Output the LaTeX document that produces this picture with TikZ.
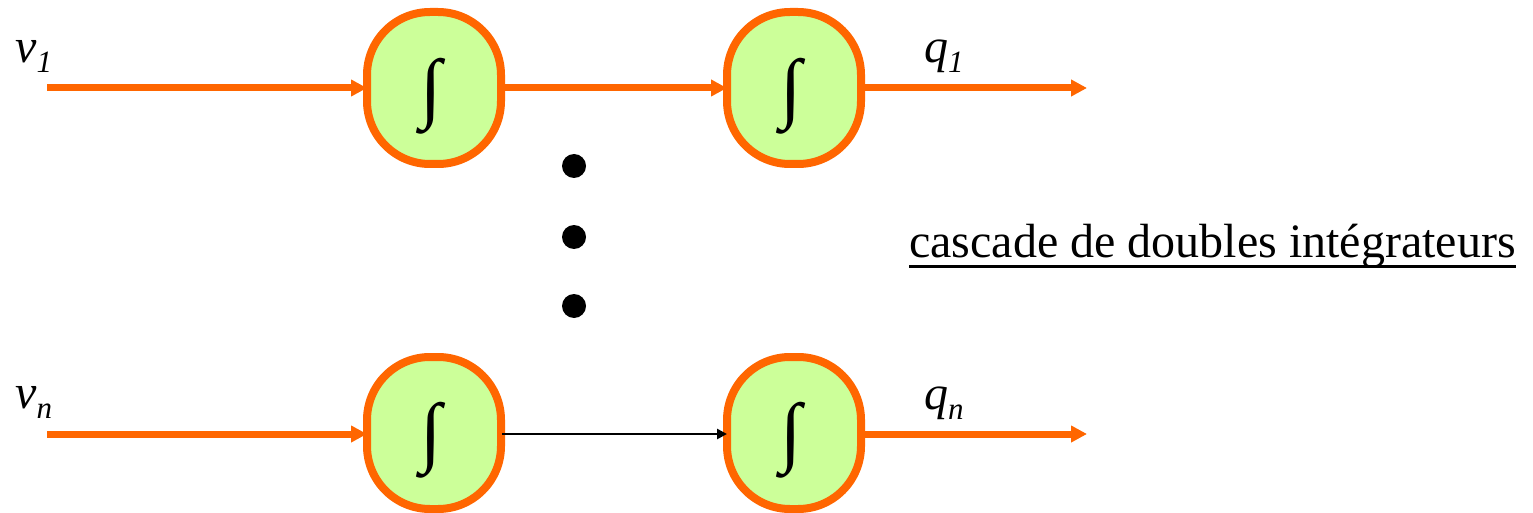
\documentclass[tikz,border=0pt]{standalone}
\usepackage{fontspec}
\usepackage{graphicx}
\setmainfont{Liberation Serif}
\usetikzlibrary{arrows.meta}
\definecolor{sigorange}{HTML}{FF6600}
\definecolor{intgreen}{HTML}{CCFF99}
\newcommand{\sublabel}[2]{\textit{#1}\raisebox{-10pt}{\fontsize{31}{31}\selectfont\itshape #2}}
\newcommand{\intglyph}{\resizebox*{!}{76pt}{\bfseries ∫}}
\begin{document}
\begin{tikzpicture}[x=1pt,y=-1pt,
  integ/.style={draw=sigorange, fill=intgreen, line width=8pt,
    rounded corners=63pt, minimum width=134pt, minimum height=152pt,
    inner sep=0pt},
  intsign/.style={inner sep=0pt},
  sig/.style={draw=sigorange, line width=7pt,
    -{Triangle[length=16pt,width=16pt]}, shorten >=-4pt},
  thin sig/.style={draw=black, line width=2.5pt,
    -{Triangle[length=10pt,width=10pt]}, shorten >=-4pt, shorten <=-3pt},
  dotc/.style={circle, fill=black, minimum size=24pt, inner sep=0pt},
  lbl/.style={anchor=base west, inner sep=0pt, font=\fontsize{48}{48}\selectfont}
]
\useasboundingbox (0,0) rectangle (1533,513);

% integrator blocks
\node[integ] (a1) at (434,88) {};
\node[integ] (a2) at (794,88) {};
\node[integ] (b1) at (434,433) {};
\node[integ] (b2) at (794,433) {};
\node[intsign] (sa1) at (431,96) {\intglyph};
\node[intsign] (sa2) at (791,96) {\intglyph};
\node[intsign] (sb1) at (431,440) {\intglyph};
\node[intsign] (sb2) at (791,440) {\intglyph};

% free ends of the signal lines
\coordinate (in1) at (47,88);
\coordinate (out1) at (1087,88);
\coordinate (inn) at (47,434);
\coordinate (outn) at (1087,434);

% first chain
\draw[sig] (in1) -- (a1.west);
\draw[sig] (a1.east) -- (a2.west);
\draw[sig, shorten >=0pt] (a2.east) -- (out1);

% last chain
\draw[sig] (inn) -- (b1.west |- inn);
\draw[thin sig] (b1.east |- inn) -- (b2.west |- inn);
\draw[sig, shorten >=0pt] (b2.east |- outn) -- (outn);

% vertical ellipsis
\node[dotc] (d1) at (574,166) {};
\node[dotc] (d2) at (574,237) {};
\node[dotc] (d3) at (574,306) {};

% labels
\node[lbl] (v1) at (15,63) {\sublabel{v}{1}};
\node[lbl] (q1) at (924,63) {\sublabel{q}{1}};
\node[lbl] (vn) at (15,408) {\sublabel{v}{n}};
\node[lbl] (qn) at (924,409) {\sublabel{q}{n}};

\node[lbl] (title) at (909,257) {cascade de doubles intégrateurs};
\draw[line width=3pt] ([yshift=-9pt]title.base west) -- ([yshift=-9pt]title.base east);
\end{tikzpicture}
\end{document}
